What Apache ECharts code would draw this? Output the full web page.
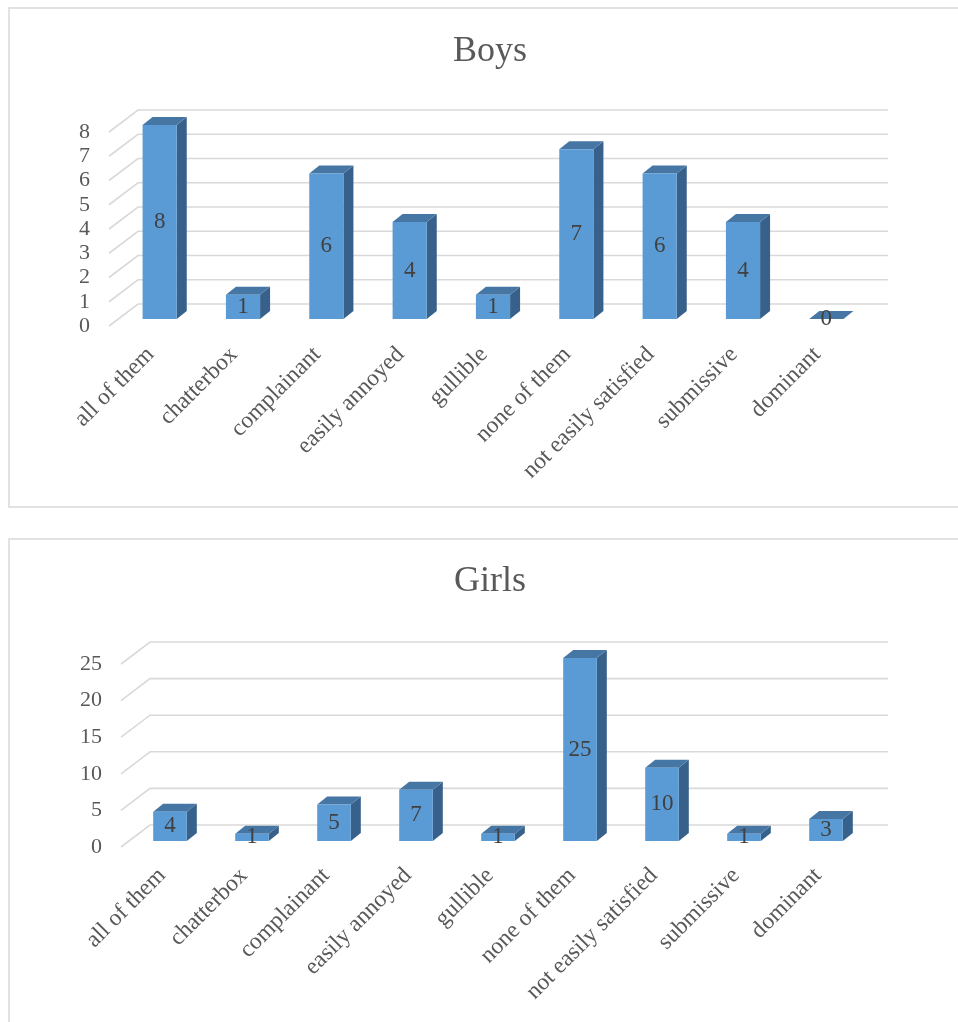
<!DOCTYPE html>
<html>
<head>
<meta charset="utf-8">
<script src="https://cdn.jsdelivr.net/npm/echarts@6/dist/echarts.min.js"></script>
<style>
html,body{margin:0;padding:0;background:#fff;}
#c{width:958px;height:1022px;}
</style>
</head>
<body>
<div id="c"></div>
<script>
const categories = ['all of them','chatterbox','complainant','easily annoyed','gullible','none of them','not easily satisfied','submissive','dominant'];
const boysValues = [8,1,6,4,1,7,6,4,0];
const girlsValues = [4,1,5,7,1,25,10,1,3];
const boysTicks = [0,1,2,3,4,5,6,7,8];
const girlsTicks = [0,5,10,15,20,25];

const FONT = '"Liberation Serif","Times New Roman",serif';
const FRONT = '#5b9bd5', TOPC = '#4676a4', SIDE = '#37618a';
const GRID_C = '#d9d9d9';
const DEPTH_X = 29, DEPTH_Y = -22;

function makeBarRender(ox, oy, dx, dy) {
  return function (params, api) {
    const i = api.value(0), v = api.value(1);
    const base = api.coord([i, 0]);
    const top = api.coord([i, v]);
    const band = api.size([1, 0])[0];
    const w = band * 0.41;
    const x0 = base[0] - w / 2 + ox, x1 = x0 + w;
    const yb = base[1] + oy, yt = top[1] + oy;
    return {
      type: 'group',
      children: [
        {type: 'polygon', shape: {points: [[x1, yt], [x1 + dx, yt + dy], [x1 + dx, yb + dy], [x1, yb]]}, style: {fill: SIDE}},
        {type: 'polygon', shape: {points: [[x0, yt], [x1, yt], [x1 + dx, yt + dy], [x0 + dx, yt + dy]]}, style: {fill: TOPC}},
        {type: 'rect', shape: {x: x0, y: yt, width: w, height: yb - yt}, style: {fill: FRONT}},
        {type: 'text', x: (x0 + x1) / 2, y: (yt + yb) / 2, style: {text: String(v), font: '23px ' + FONT, fill: '#404040', align: 'center', verticalAlign: 'middle'}}
      ]
    };
  };
}

function gridRender(params, api) {
  const v = api.value(1);
  const p = api.coord([0, v]);
  const cs = params.coordSys;
  return {
    type: 'polyline',
    shape: {points: [[cs.x, p[1]], [cs.x + DEPTH_X, p[1] + DEPTH_Y], [cs.x + cs.width + DEPTH_X, p[1] + DEPTH_Y]]},
    style: {stroke: GRID_C, lineWidth: 1.6, fill: null}
  };
}

const chart = echarts.init(document.getElementById('c'), null, {renderer: 'canvas'});

function yAxis(gi, max, interval) {
  return {
    type: 'value', gridIndex: gi, min: 0, max: max, interval: interval,
    axisLine: {show: false}, axisTick: {show: false}, splitLine: {show: false},
    axisLabel: {margin: 19, fontFamily: FONT, fontSize: 22, color: '#595959'}
  };
}
function xAxis(gi) {
  return {
    type: 'category', gridIndex: gi, data: categories,
    axisLine: {show: false}, axisTick: {show: false}, splitLine: {show: false},
    axisLabel: {rotate: 45, margin: 25, interval: 0, fontFamily: FONT, fontSize: 23.5, color: '#595959'}
  };
}

chart.setOption({
  animation: false,
  graphic: [
    {type: 'rect', shape: {x: 9, y: 8, width: 1000, height: 499}, style: {fill: null, stroke: '#d9d9d9', lineWidth: 1.5}, silent: true},
    {type: 'rect', shape: {x: 9, y: 539, width: 1000, height: 600}, style: {fill: null, stroke: '#d9d9d9', lineWidth: 1.5}, silent: true}
  ],
  title: [
    {text: 'Boys', left: 490, top: 34, textAlign: 'center', padding: 0, textStyle: {fontFamily: FONT, fontSize: 36, fontWeight: 'normal', color: '#595959'}},
    {text: 'Girls', left: 490, top: 564, textAlign: 'center', padding: 0, textStyle: {fontFamily: FONT, fontSize: 36, fontWeight: 'normal', color: '#595959'}}
  ],
  grid: [
    {left: 109, right: 99, top: 132, height: 194},
    {left: 121, right: 99, top: 664, height: 183}
  ],
  xAxis: [xAxis(0), xAxis(1)],
  yAxis: [yAxis(0, 8, 1), yAxis(1, 25, 5)],
  series: [
    {type: 'custom', xAxisIndex: 0, yAxisIndex: 0, z: 1, silent: true, renderItem: gridRender,
     data: boysTicks.map(t => [0, t]), encode: {x: 0, y: 1}},
    {type: 'custom', xAxisIndex: 0, yAxisIndex: 0, z: 5, silent: true, renderItem: makeBarRender(9, -7, 10, -8),
     data: boysValues.map((v, i) => [i, v]), encode: {x: 0, y: 1}},
    {type: 'custom', xAxisIndex: 1, yAxisIndex: 1, z: 1, silent: true, renderItem: gridRender,
     data: girlsTicks.map(t => [0, t]), encode: {x: 0, y: 1}},
    {type: 'custom', xAxisIndex: 1, yAxisIndex: 1, z: 5, silent: true, renderItem: makeBarRender(8, -6, 10, -8),
     data: girlsValues.map((v, i) => [i, v]), encode: {x: 0, y: 1}}
  ]
});
</script>
</body>
</html>
